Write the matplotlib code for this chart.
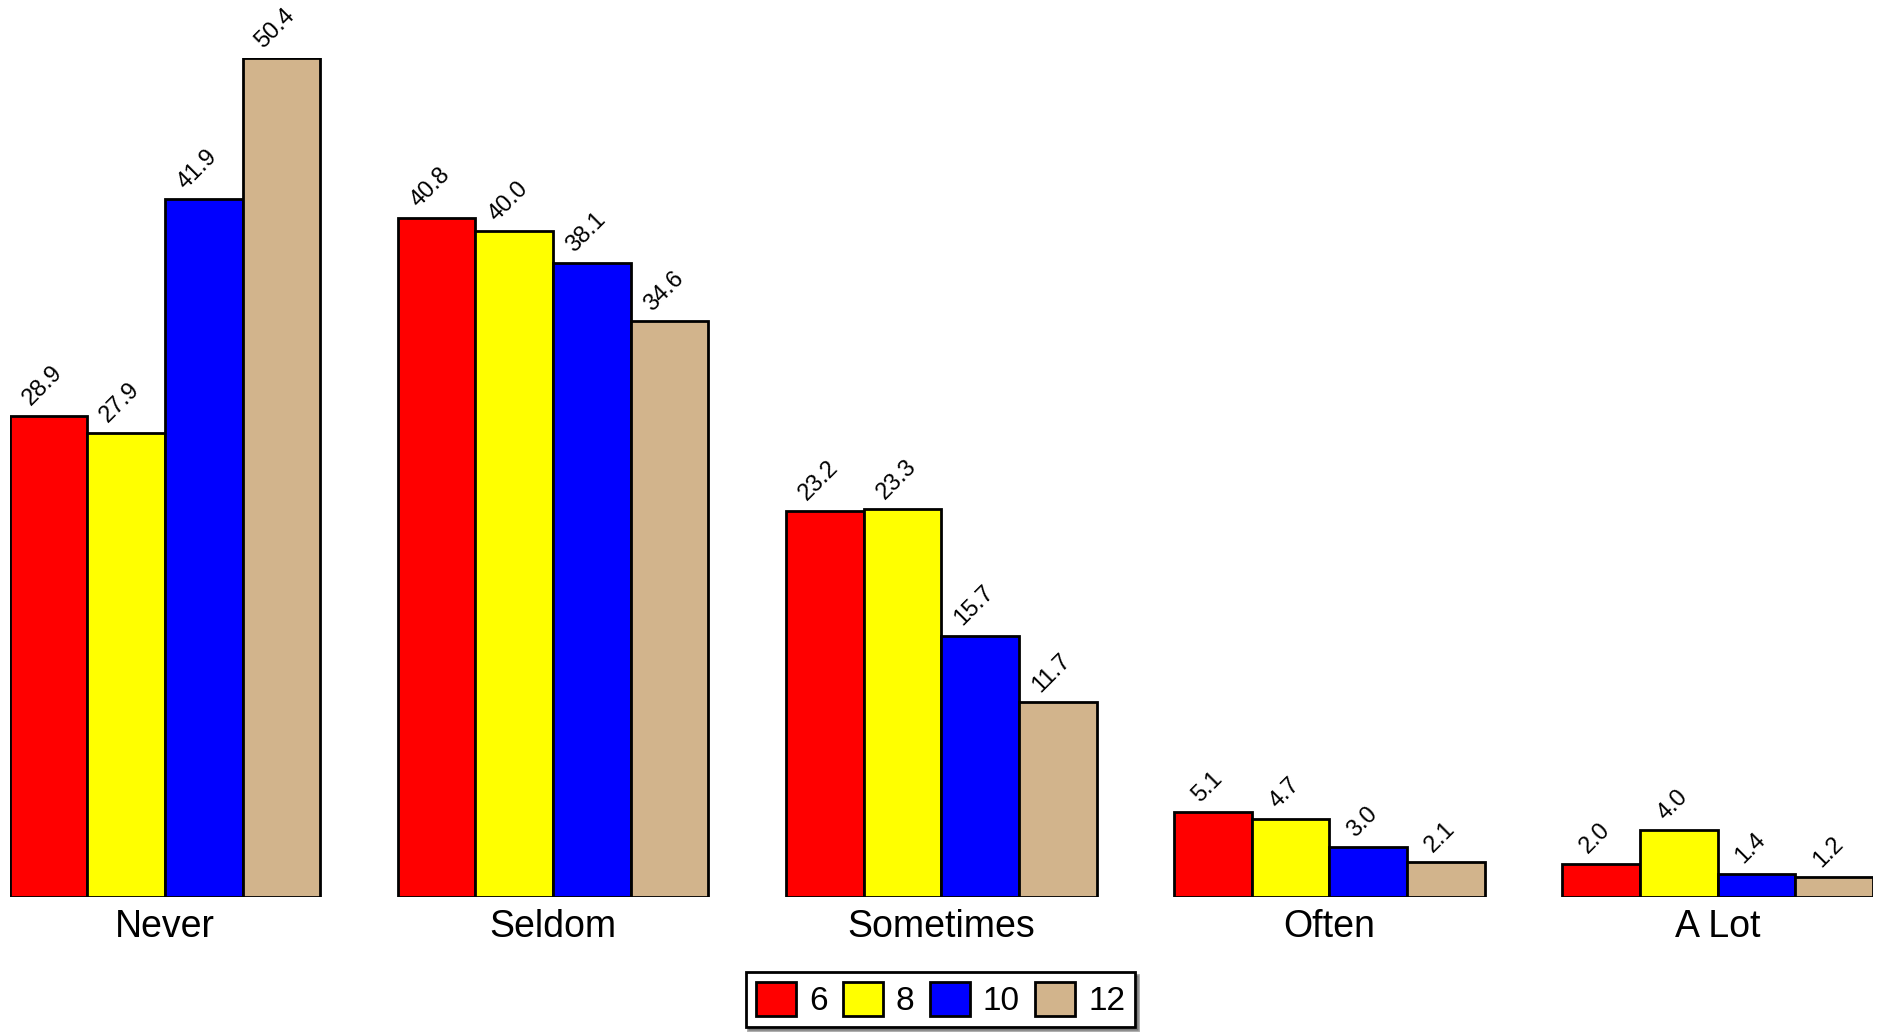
import numpy as np
import matplotlib
matplotlib.use("Agg")
import matplotlib.pyplot as plt

plt.rcParams['font.family'] = ['Liberation Sans', 'DejaVu Sans']

categories = ["Never", "Seldom", "Sometimes", "Often", "A Lot"]
series_names = ["6", "8", "10", "12"]
values = {
    "6":  [28.9, 40.8, 23.2, 5.1, 2.0],
    "8":  [27.9, 40.0, 23.3, 4.7, 4.0],
    "10": [41.9, 38.1, 15.7, 3.0, 1.4],
    "12": [50.4, 34.6, 11.7, 2.1, 1.2],
}
colors = ["#ff0000", "#ffff00", "#0000ff", "#d2b48c"]

fig = plt.figure(figsize=(18.81, 10.33), dpi=100)
ax = fig.add_axes([0.0051, 0.1317, 0.9906, 0.8122])

x = np.arange(len(categories))
width = 0.2
for i, name in enumerate(series_names):
    pos = x - 0.3 + i * width
    ax.bar(pos, values[name], width, color=colors[i], edgecolor="black",
           linewidth=2, label=name)
    for xp, v in zip(pos, values[name]):
        ax.text(xp - 0.015, v + 0.35, f"{v:.1f}", rotation=45, ha="center",
                va="bottom", fontsize=17)

ax.set_xlim(-0.4, 4.4)
ax.set_ylim(0, 50.4)
ax.set_xticks(x)
ax.set_xticklabels(categories, fontsize=27)
ax.tick_params(axis="x", length=0, pad=9)
ax.set_yticks([])
for s in ax.spines.values():
    s.set_visible(False)
ax.patch.set_visible(False)

leg = fig.legend(loc="upper center", bbox_to_anchor=(0.5, 0.059), ncol=4,
                 fontsize=24, frameon=True, fancybox=False, shadow=True,
                 handlelength=1.2, handleheight=1.2, handletextpad=0.4,
                 columnspacing=0.45, borderpad=0.3, borderaxespad=0)
leg.get_frame().set_edgecolor("black")
leg.get_frame().set_linewidth(2)

fig.savefig("out.png", dpi=100)
